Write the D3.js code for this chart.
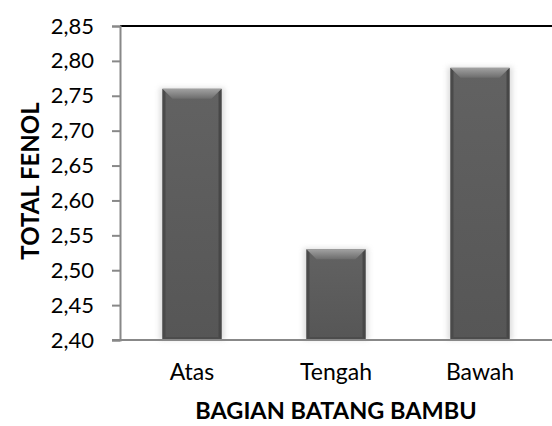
<!DOCTYPE html>
<html>
<head>
<meta charset="utf-8">
<script src="https://cdn.jsdelivr.net/npm/d3@7"></script>
<style>
  html, body { margin: 0; padding: 0; background: #fff; }
  svg { display: block; }
  text { font-family: Lato, "Open Sans", sans-serif; fill: #000; }
</style>
</head>
<body>
<script>
// Total phenol content by bamboo stem section
const categories = ["Atas", "Tengah", "Bawah"];
const values = [2.76, 2.53, 2.79];
const yTicks = [2.40, 2.45, 2.50, 2.55, 2.60, 2.65, 2.70, 2.75, 2.80, 2.85];
const xTitle = "BAGIAN BATANG BAMBU";
const yTitle = "TOTAL FENOL";

const W = 552, H = 426;
const margin = { top: 26, right: 0, bottom: 86, left: 120 };
const iw = W - margin.left - margin.right;
const ih = H - margin.top - margin.bottom;
const FONT = "Lato, 'Open Sans', sans-serif";

const svg = d3.select("body").append("svg").attr("width", W).attr("height", H);
const defs = svg.append("defs");

const topGrad = defs.append("linearGradient").attr("id", "bevelTop")
  .attr("x1", 0).attr("y1", 0).attr("x2", 0).attr("y2", 1);
topGrad.append("stop").attr("offset", "0%").attr("stop-color", "#a2a2a2");
topGrad.append("stop").attr("offset", "100%").attr("stop-color", "#6c6c6c");

const bodyGrad = defs.append("linearGradient").attr("id", "bevelBody")
  .attr("x1", 0).attr("y1", 0).attr("x2", 0).attr("y2", 1);
bodyGrad.append("stop").attr("offset", "0%").attr("stop-color", "#626262");
bodyGrad.append("stop").attr("offset", "100%").attr("stop-color", "#565656");

const glow = defs.append("filter").attr("id", "glow")
  .attr("x", "-30%").attr("y", "-10%").attr("width", "160%").attr("height", "120%");
glow.append("feGaussianBlur").attr("stdDeviation", 2.5);

const x = d3.scaleBand().domain(categories).range([0, iw]).paddingInner(0.59).paddingOuter(0.295);
const y = d3.scaleLinear().domain([2.40, 2.85]).range([ih, 0]);

const g = svg.append("g").attr("transform", `translate(${margin.left},${margin.top})`);

// top border of plot area
g.append("line").attr("x1", 0).attr("x2", iw).attr("y1", 0).attr("y2", 0)
  .attr("stroke", "#000").attr("stroke-width", 2);

// bars with bevelled look
const bars = g.selectAll("g.bar").data(categories.map((c, i) => ({ c, v: values[i] })))
  .join("g").attr("class", "bar");

bars.append("rect")
  .attr("x", d => x(d.c) - 3).attr("y", d => y(d.v) - 1)
  .attr("width", x.bandwidth() + 6).attr("height", d => ih - y(d.v) + 1)
  .attr("fill", "#c8c8c8").attr("opacity", 0.6).attr("filter", "url(#glow)");

bars.append("rect")
  .attr("x", d => x(d.c)).attr("y", d => y(d.v))
  .attr("width", x.bandwidth()).attr("height", d => ih - y(d.v))
  .attr("fill", "url(#bevelBody)");

const b = 10, s = 3;
// left & right edges
bars.append("path").attr("fill", "#4a4a4a").attr("d", d => {
  const x0 = x(d.c), y0 = y(d.v);
  return `M${x0},${y0}L${x0 + s},${y0 + s}L${x0 + s},${ih - s}L${x0},${ih}Z`;
});
bars.append("path").attr("fill", "#474747").attr("d", d => {
  const x1 = x(d.c) + x.bandwidth(), y0 = y(d.v);
  return `M${x1},${y0}L${x1 - s},${y0 + s}L${x1 - s},${ih - s}L${x1},${ih}Z`;
});
// bottom edge
bars.append("path").attr("fill", "#4c4c4c").attr("d", d => {
  const x0 = x(d.c), x1 = x0 + x.bandwidth();
  return `M${x0},${ih}L${x0 + s},${ih - s}L${x1 - s},${ih - s}L${x1},${ih}Z`;
});
// top bevel
bars.append("path").attr("fill", "url(#bevelTop)").attr("d", d => {
  const x0 = x(d.c), x1 = x0 + x.bandwidth(), y0 = y(d.v);
  return `M${x0},${y0}L${x1},${y0}L${x1 - b},${y0 + b}L${x0 + b},${y0 + b}Z`;
});

// y axis
const yAxis = g.append("g")
  .call(d3.axisLeft(y).tickValues(yTicks).tickSize(8).tickPadding(18)
    .tickFormat(d => d3.format(".2f")(d).replace(".", ",")));
yAxis.select(".domain").attr("stroke", "#888").attr("stroke-width", 2);
yAxis.selectAll(".tick line").attr("stroke", "#888").attr("stroke-width", 2);
yAxis.selectAll(".tick text").attr("font-size", 22).attr("fill", "#000")
  .style("font-family", FONT);

// x axis
const xAxis = g.append("g").attr("transform", `translate(0,${ih})`)
  .call(d3.axisBottom(x).tickSize(0).tickPadding(24));
xAxis.select(".domain").attr("stroke", "#888").attr("stroke-width", 2)
  .attr("d", `M-8,0H${iw}`);
xAxis.selectAll(".tick text").attr("font-size", 23).attr("fill", "#000")
  .style("font-family", FONT);

// axis titles
svg.append("text").attr("x", margin.left + iw / 2).attr("y", 419)
  .attr("text-anchor", "middle").attr("font-size", 23.5).attr("font-weight", "bold")
  .style("font-family", FONT)
  .text(xTitle);
svg.append("text").attr("transform", `translate(39,${margin.top + ih / 2 - 2}) rotate(-90)`)
  .attr("text-anchor", "middle").attr("font-size", 24).attr("font-weight", "bold")
  .style("font-family", FONT)
  .text(yTitle);
</script>
</body>
</html>
